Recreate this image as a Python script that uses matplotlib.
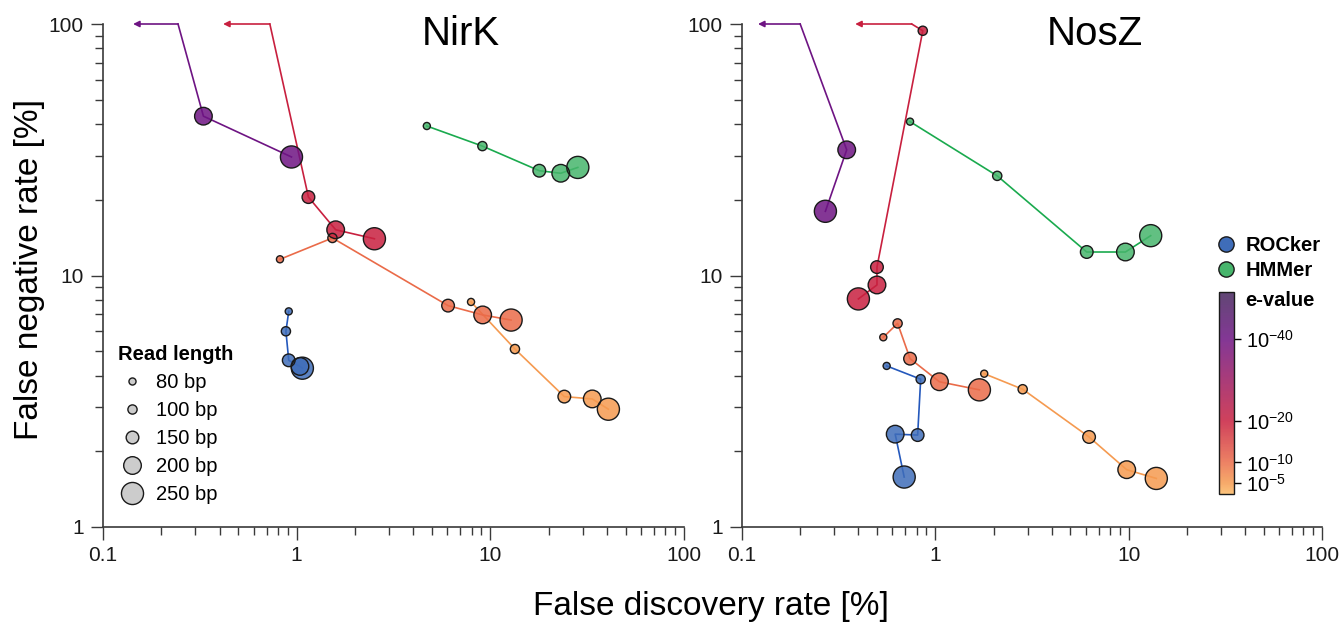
import numpy as np
import matplotlib
matplotlib.use("Agg")
import matplotlib.pyplot as plt
from matplotlib.colors import LinearSegmentedColormap, Normalize
from matplotlib.cm import ScalarMappable
from matplotlib.lines import Line2D
from matplotlib.ticker import FixedLocator, FuncFormatter, NullFormatter, LogLocator

plt.rcParams["font.family"] = ["Liberation Sans", "DejaVu Sans"]
plt.rcParams["mathtext.fontset"] = "custom"
plt.rcParams["mathtext.rm"] = "Liberation Sans"
plt.rcParams["mathtext.it"] = "Liberation Sans:italic"
plt.rcParams["mathtext.bf"] = "Liberation Sans:bold"

# read lengths (bp) of the five points in every series
read_lengths = [80, 100, 150, 200, 250]
legend_sizes = [26, 44, 83, 161, 253]

# HMMer e-value cut-offs, as 10^-x
evalue_exp = [5, 10, 20, 40]
evalue_ticks = [5, 10, 20, 40]

# ---- NirK ----
nirk_rocker_fdr = [0.91, 0.88, 0.91, 1.04, 1.07]
nirk_rocker_fnr = [7.2, 6.0, 4.6, 4.35, 4.28]
nirk_hmmer_fdr = [4.7, 9.1, 17.9, 23.1, 28.3]
nirk_hmmer_fnr = [39.3, 32.7, 26.1, 25.5, 26.9]
nirk_e_fdr = [
    [7.95, 13.4, 24.1, 33.6, 40.7],
    [0.82, 1.53, 6.05, 9.13, 12.8],
    [np.nan, np.nan, 1.15, 1.59, 2.52],
    [np.nan, np.nan, np.nan, 0.33, 0.94],
]
nirk_e_fnr = [
    [7.85, 5.10, 3.30, 3.23, 2.94],
    [11.6, 14.1, 7.59, 6.97, 6.65],
    [100, 100, 20.5, 15.2, 14.0],
    [100, 100, 100, 43.0, 29.6],
]
# FNR = 100 % (no hits): drawn as arrow at the top edge
nirk_cut_corner = [None, None, 0.727, 0.244]
nirk_cut_tip = [None, None, 0.417, 0.143]

# ---- NosZ ----
nosz_rocker_fdr = [0.56, 0.84, 0.81, 0.62, 0.69]
nosz_rocker_fnr = [4.37, 3.87, 2.32, 2.34, 1.58]
nosz_hmmer_fdr = [0.74, 2.09, 6.07, 9.62, 13.0]
nosz_hmmer_fnr = [40.9, 24.9, 12.4, 12.4, 14.4]
nosz_e_fdr = [
    [1.79, 2.83, 6.24, 9.77, 13.9],
    [0.538, 0.638, 0.74, 1.05, 1.69],
    [np.nan, 0.861, 0.499, 0.499, 0.40],
    [np.nan, np.nan, np.nan, 0.348, 0.27],
]
nosz_e_fnr = [
    [4.07, 3.53, 2.28, 1.69, 1.56],
    [5.68, 6.45, 4.67, 3.78, 3.51],
    [100, 94, 10.8, 9.17, 8.07],
    [100, 100, 100, 31.6, 18.0],
]
nosz_cut_corner = [None, None, 0.755, 0.200]
nosz_cut_tip = [None, None, 0.385, 0.121]

ROCKER_FACE = "#3f6db9"
ROCKER_LINE = "#2458bc"
HMMER_FACE = "#47b56c"
HMMER_LINE = "#1aaa4e"

VMIN, VMAX = 2.3, 51.5
cmap = LinearSegmentedColormap.from_list(
    "evalue",
    [(0.0, "#fbb864"), (0.055, "#f59a50"), (0.157, "#ea6b49"),
     (0.36, "#c8203f"), (0.766, "#6e1483"), (1.0, "#45265c")],
)
norm = Normalize(VMIN, VMAX)

size_of = dict(zip(read_lengths, legend_sizes))


def draw_series(ax, fdr, fnr, face, line, corner=None, tip=None):
    fdr = np.asarray(fdr, dtype=float)
    fnr = np.asarray(fnr, dtype=float)
    ok = ~np.isnan(fdr)
    lx = list(fdr[ok])
    ly = list(fnr[ok])
    if corner is not None:
        lx = [corner] + lx
        ly = [100] + ly
        ax.annotate("", xy=(tip, 100), xytext=(corner, 100),
                    arrowprops=dict(arrowstyle="-|>", color=line, lw=1.2,
                                    mutation_scale=9, shrinkA=0, shrinkB=0),
                    annotation_clip=False, zorder=2)
    ax.plot(lx, ly, color=line, lw=1.2, zorder=2, clip_on=False)
    sizes = [size_of[r] for r, k in zip(read_lengths, ok) if k]
    ax.scatter(fdr[ok], fnr[ok], s=sizes, color=face, alpha=0.85,
               edgecolors="none", zorder=3, clip_on=False)
    ax.scatter(fdr[ok], fnr[ok], s=sizes, facecolors="none",
               edgecolors="#1a1a1a", linewidths=1.0, zorder=4, clip_on=False)


def style_axes(ax):
    ax.set_xscale("log")
    ax.set_yscale("log")
    ax.set_xlim(0.1, 100)
    ax.set_ylim(1, 100)
    for side in ["top", "right"]:
        ax.spines[side].set_visible(False)
    for side in ["left", "bottom"]:
        ax.spines[side].set_color("#3a3a3a")
        ax.spines[side].set_linewidth(1.2)
    ax.xaxis.set_major_locator(FixedLocator([0.1, 1, 10, 100]))
    ax.yaxis.set_major_locator(FixedLocator([1, 10, 100]))
    ax.xaxis.set_minor_locator(LogLocator(base=10, subs=np.arange(2, 10)))
    ax.yaxis.set_minor_locator(LogLocator(base=10, subs=np.arange(2, 10)))
    fmt = FuncFormatter(lambda v, _: f"{v:g}")
    ax.xaxis.set_major_formatter(fmt)
    ax.yaxis.set_major_formatter(fmt)
    ax.xaxis.set_minor_formatter(NullFormatter())
    ax.yaxis.set_minor_formatter(NullFormatter())
    ax.tick_params(which="major", direction="out", length=9, width=1.0,
                   color="#3a3a3a", labelsize=15, labelcolor="#1a1a1a", pad=5)
    ax.tick_params(which="minor", direction="out", length=6, width=1.0,
                   color="#3a3a3a")


def draw_panel(ax, title, title_x, rocker, hmmer, e_fdr, e_fnr, corners, tips):
    style_axes(ax)
    draw_series(ax, rocker[0], rocker[1], ROCKER_FACE, ROCKER_LINE)
    draw_series(ax, hmmer[0], hmmer[1], HMMER_FACE, HMMER_LINE)
    for exp, fdr, fnr, c, t in zip(evalue_exp, e_fdr, e_fnr, corners, tips):
        col = cmap(norm(exp))
        draw_series(ax, fdr, fnr, col, col, c, t)
    ax.text(title_x, 0.98, title, transform=ax.transAxes, fontsize=29,
            ha="center", va="center")


fig = plt.figure(figsize=(13.42, 6.3), dpi=100)
ax1 = fig.add_axes([103 / 1342, 103 / 630, 581 / 1342, 503 / 630])
ax2 = fig.add_axes([742 / 1342, 103 / 630, 580 / 1342, 503 / 630])

draw_panel(ax1, "NirK", 0.616, (nirk_rocker_fdr, nirk_rocker_fnr),
           (nirk_hmmer_fdr, nirk_hmmer_fnr), nirk_e_fdr, nirk_e_fnr,
           nirk_cut_corner, nirk_cut_tip)
draw_panel(ax2, "NosZ", 0.609, (nosz_rocker_fdr, nosz_rocker_fnr),
           (nosz_hmmer_fdr, nosz_hmmer_fnr), nosz_e_fdr, nosz_e_fnr,
           nosz_cut_corner, nosz_cut_tip)

fig.text(30 / 1342, 1 - 270 / 630, "False negative rate [%]", rotation=90,
         fontsize=24, ha="center", va="center")
fig.text(711 / 1342, 1 - 607 / 630, "False discovery rate [%]",
         fontsize=24, ha="center", va="center")

# read length legend
rl_handles = [
    Line2D([], [], ls="", marker="o", markersize=np.sqrt(s),
           markerfacecolor="#cccccc", markeredgecolor="#1a1a1a",
           markeredgewidth=1.0)
    for s in legend_sizes
]
ax1.legend(rl_handles, [f"{r} bp" for r in read_lengths], title="Read length",
           loc="lower left", bbox_to_anchor=(0.026, 0.045), frameon=False,
           fontsize=14.5, title_fontproperties={"weight": "bold", "size": 14.5},
           alignment="left", borderpad=0, labelspacing=0.45,
           handletextpad=0.5, handlelength=1.4, borderaxespad=0)

# method legend
m_handles = [
    Line2D([], [], ls="", marker="o", markersize=11, markerfacecolor=ROCKER_FACE,
           markeredgecolor="#1a1a1a", markeredgewidth=1.0),
    Line2D([], [], ls="", marker="o", markersize=11, markerfacecolor=HMMER_FACE,
           markeredgecolor="#1a1a1a", markeredgewidth=1.0),
]
fig.legend(m_handles, ["ROCker", "HMMer"], loc="upper left",
           bbox_to_anchor=(1215 / 1342, 1 - 236 / 630), frameon=False,
           prop={"weight": "bold", "size": 14.5}, borderpad=0,
           labelspacing=0.3, handletextpad=0.4, handlelength=1.1,
           borderaxespad=0)

# e-value colour bar
cax = fig.add_axes([1219 / 1342, 1 - 494 / 630, 15 / 1342, 202 / 630])
sm = ScalarMappable(norm=norm, cmap=cmap)
cb = fig.colorbar(sm, cax=cax, alpha=0.85)
cb.set_ticks(evalue_ticks)
cb.set_ticklabels([rf"$10^{{-{e}}}$" for e in evalue_ticks])
cb.outline.set_linewidth(1.0)
cb.outline.set_edgecolor("#1a1a1a")
cax.tick_params(length=5, width=1.0, labelsize=14.5, pad=4)
fig.text(1245 / 1342, 1 - 300 / 630, "e-value", fontsize=14.5,
         fontweight="bold", ha="left", va="center")

fig.savefig("out.png", dpi=100)
